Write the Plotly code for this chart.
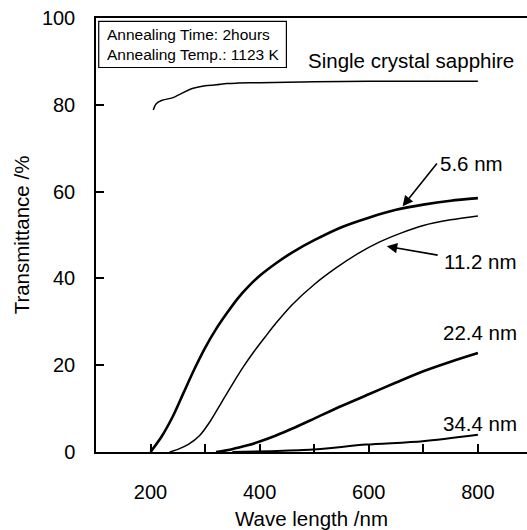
import plotly.graph_objects as go

# ---- data ----
wl_sapphire = [205, 210, 220, 240, 260, 275, 300, 320, 340, 360, 400, 450, 500, 600, 700, 800]
t_sapphire = [78.8, 80.2, 81.0, 81.6, 82.8, 83.7, 84.4, 84.6, 84.9, 85.0, 85.1, 85.2, 85.3, 85.4, 85.4, 85.4]

wl_56 = [200, 220, 240, 260, 280, 300, 320, 340, 360, 380, 400, 430, 460, 500, 550, 600, 650, 700, 750, 800]
t_56 = [0.0, 3.5, 8.0, 13.5, 19.0, 24.0, 28.3, 32.0, 35.4, 38.2, 40.6, 43.5, 46.0, 48.8, 51.8, 54.0, 55.8, 57.0, 57.9, 58.5]

wl_112 = [235, 250, 270, 290, 310, 330, 350, 370, 390, 410, 430, 460, 500, 540, 580, 620, 660, 700, 750, 800]
t_112 = [0.0, 0.6, 1.8, 3.8, 7.2, 11.4, 15.6, 19.6, 23.2, 26.5, 29.7, 34.0, 38.6, 42.4, 45.7, 48.4, 50.5, 52.2, 53.5, 54.4]

wl_224 = [320, 340, 360, 380, 400, 430, 460, 500, 550, 600, 650, 700, 750, 800]
t_224 = [0.0, 0.4, 1.0, 1.6, 2.4, 3.8, 5.4, 7.7, 10.6, 13.3, 16.0, 18.6, 20.8, 22.8]

wl_344 = [350, 420, 497, 595, 699, 800]
t_344 = [0.0, 0.2, 0.55, 1.7, 2.5, 4.0]

x_ticks = [200, 400, 600, 800]
y_ticks = [0, 20, 40, 60, 80, 100]

FONT = "Liberation Sans, Arial, sans-serif"

fig = go.Figure()
series = [
    (wl_sapphire, t_sapphire, 1.5),
    (wl_56, t_56, 2.6),
    (wl_112, t_112, 1.5),
    (wl_224, t_224, 2.6),
    (wl_344, t_344, 2.0),
]
for xs, ys, w in series:
    fig.add_trace(go.Scatter(x=xs, y=ys, mode="lines",
                             line=dict(color="black", width=w, shape="spline", smoothing=0.8),
                             showlegend=False, hoverinfo="skip"))

# labels
labels = [
    ("5.6 nm", 727, 66.4),
    ("11.2 nm", 735, 43.9),
    ("22.4 nm", 733, 27.5),
    ("34.4 nm", 733, 6.6),
    ("Single crystal sapphire", 484, 90.2),
]
for txt, x, y in labels:
    fig.add_annotation(x=x, y=y, xref="x", yref="y", text=txt, showarrow=False,
                       xanchor="left", yanchor="middle",
                       font=dict(family=FONT, size=20.5, color="black"))

# arrows
arrows = [
    (662, 56.6, 727, 66.8),
    (633, 47.4, 729, 45.3),
]
for hx, hy, tx, ty in arrows:
    fig.add_annotation(x=hx, y=hy, ax=tx, ay=ty, xref="x", yref="y", axref="x", ayref="y",
                       text="", showarrow=True, arrowhead=2, arrowsize=1.3,
                       arrowwidth=1.6, arrowcolor="black")

# box with annealing info
fig.add_shape(type="rect", xref="x", yref="y", x0=105, x1=449, y0=88.6, y1=99.2,
              line=dict(color="black", width=1.2), fillcolor="white")
fig.add_annotation(x=117, y=96.2, xref="x", yref="y", text="Annealing Time: 2hours",
                   showarrow=False, xanchor="left", yanchor="middle",
                   font=dict(family=FONT, size=15.5, color="black"))
fig.add_annotation(x=117, y=91.6, xref="x", yref="y", text="Annealing Temp.: 1123 K",
                   showarrow=False, xanchor="left", yanchor="middle",
                   font=dict(family=FONT, size=15.5, color="black"))

fig.update_layout(
    width=527, height=530,
    margin=dict(l=96, r=0, t=18, b=78),
    paper_bgcolor="white", plot_bgcolor="white",
    font=dict(family=FONT, size=20, color="black"),
    xaxis=dict(range=[100, 890], tickvals=x_ticks, ticks="inside", ticklen=8,
               tickwidth=1.5, tickcolor="black", showgrid=False, zeroline=False,
               showline=True, linecolor="black", linewidth=2, mirror=True,
               automargin=False,
               ticklabelstandoff=21, tickfont=dict(family=FONT, size=20),
               minor=dict(ticks="inside", dtick=100, tick0=100, ticklen=8,
                          tickwidth=1.5, tickcolor="black", showgrid=False),
               title=dict(text="Wave length /nm", standoff=19,
                          font=dict(family=FONT, size=20.5))),
    yaxis=dict(range=[0, 100], tickvals=y_ticks, ticks="inside", ticklen=8,
               tickwidth=1.5, tickcolor="black", showgrid=False, zeroline=False,
               showline=True, linecolor="black", linewidth=1.5, mirror=False,
               automargin=False,
               ticklabelstandoff=15, tickfont=dict(family=FONT, size=20),
               title=dict(text="Transmittance /%", standoff=7,
                          font=dict(family=FONT, size=20.5))),
)

fig.write_html("out.html")
